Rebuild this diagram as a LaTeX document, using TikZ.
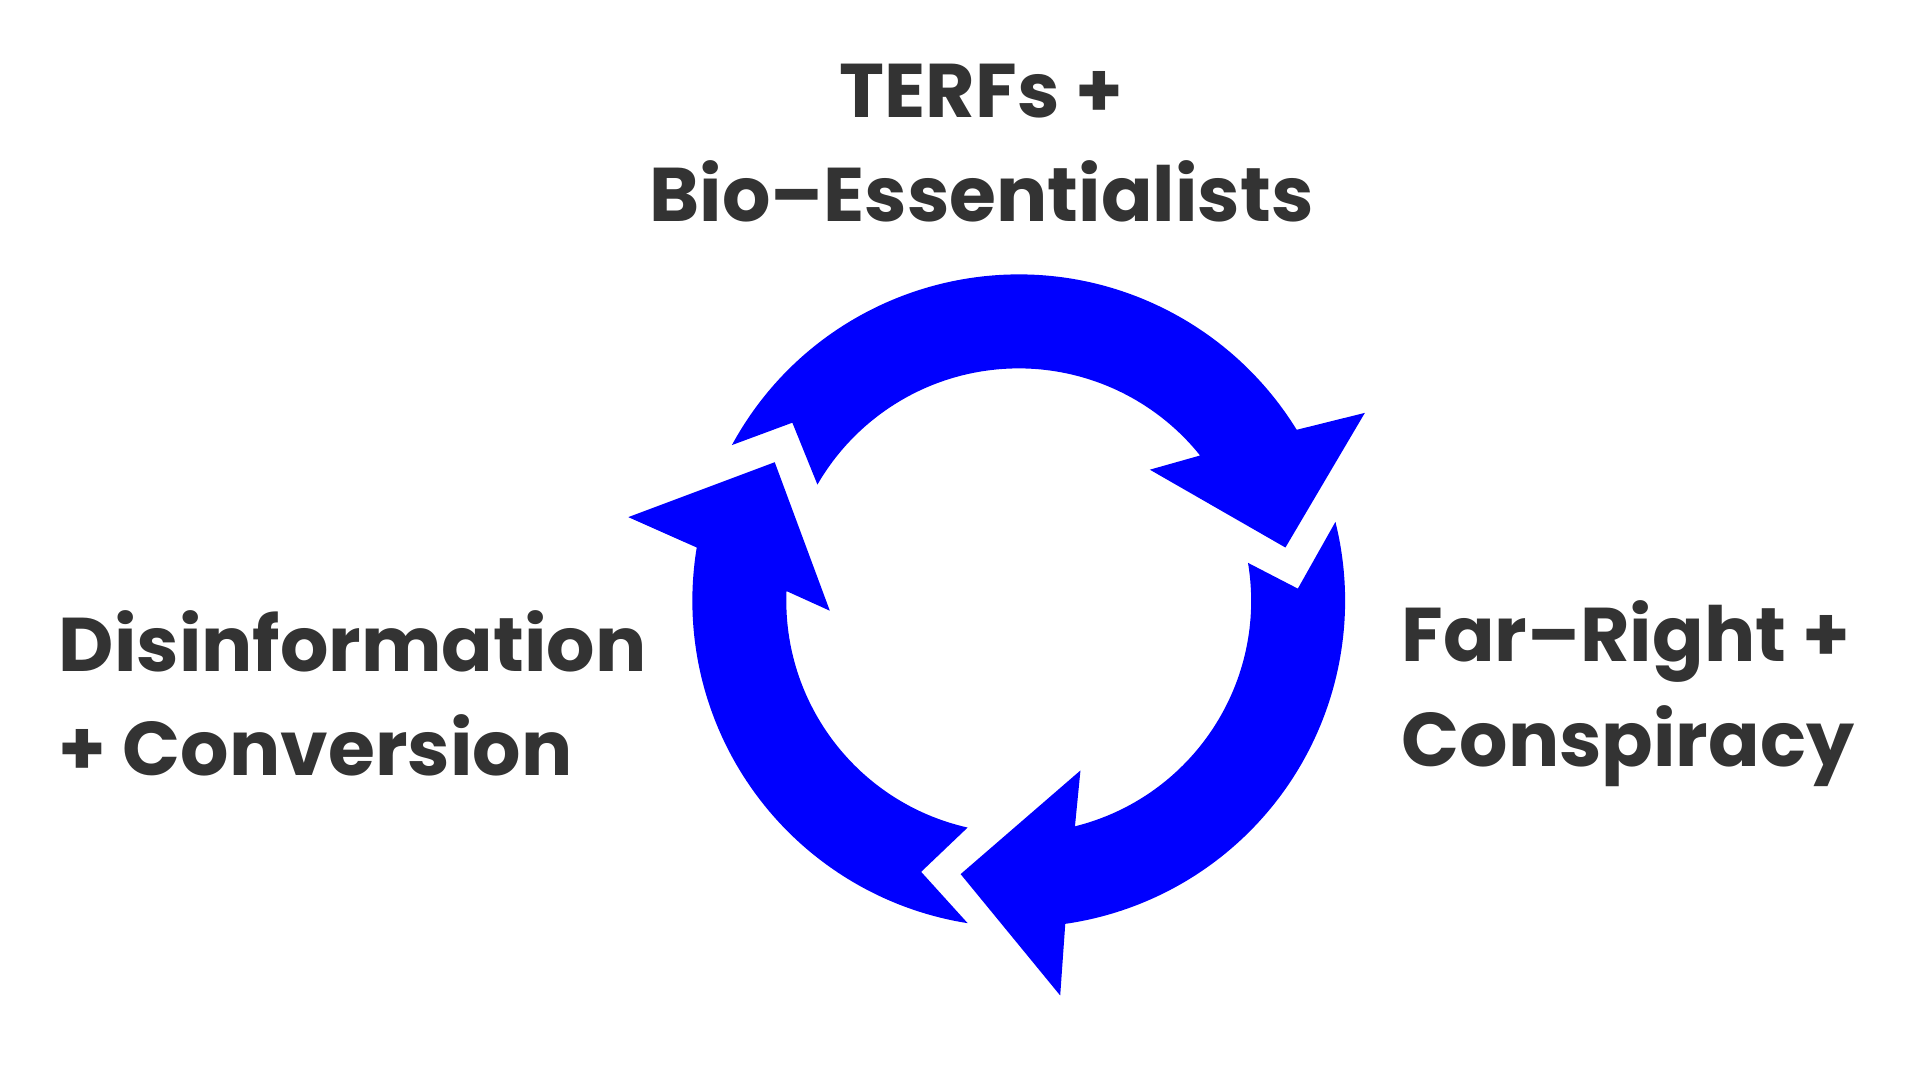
\documentclass[tikz,border=0pt]{standalone}
\usepackage{fontspec}
\setmainfont{Poppins}[BoldFont={* Bold}]
\usetikzlibrary{calc}
\definecolor{cycleblue}{RGB}{0,0,255}
\definecolor{labelgray}{RGB}{51,51,51}

\begin{document}
\begin{tikzpicture}[x=0.01cm,y=0.01cm,
  label/.style={font=\fontsize{17.5}{24}\selectfont\bfseries, text=labelgray, inner sep=0pt},
  cyclearrow/.style={fill=cycleblue, draw=none}]
\useasboundingbox (0,0) rectangle (1553,874);
\coordinate (c) at (824,388);

% top arrow
\fill[cyclearrow] ($(c)+(151.5:264)$) arc (151.5:31.6:264)
  -- ($(c)+(28.5:318.6)$) -- ($(c)+(11.3:220)$) -- ($(c)+(45:150)$)
  -- ($(c)+(38.7:188)$) arc (38.7:150:188)
  -- ($(c)+(141.8:233)$) -- cycle;
% right arrow
\fill[cyclearrow] ($(c)+(14:264)$) arc (14:-81.8:264)
  -- ($(c)+(-84:321)$) -- ($(c)+(-102:226)$) -- ($(c)+(-70:146)$)
  -- ($(c)+(-76:188)$) arc (-76:9.4:188)
  -- ($(c)+(2.5:226)$) -- cycle;
% left arrow
\fill[cyclearrow] ($(c)+(-99:264)$) arc (-99:-189.4:264)
  -- ($(c)+(167.9:323)$) -- ($(c)+(150.4:227)$) -- ($(c)+(183:153)$)
  -- ($(c)+(177.6:188)$) arc (177.6:257.3:188)
  -- ($(c)+(250.2:233)$) -- cycle;

\node[label, align=center] (terfs) at (794,758) {TERFs +\\Bio--Essentialists};
\node[label, align=left, anchor=west] (disinfo) at (47,313) {Disinformation\\+ Conversion};
\node[label, align=left, anchor=west] (farright) at (1133,313) {Far--Right +\\Conspiracy};
\end{tikzpicture}
\end{document}
